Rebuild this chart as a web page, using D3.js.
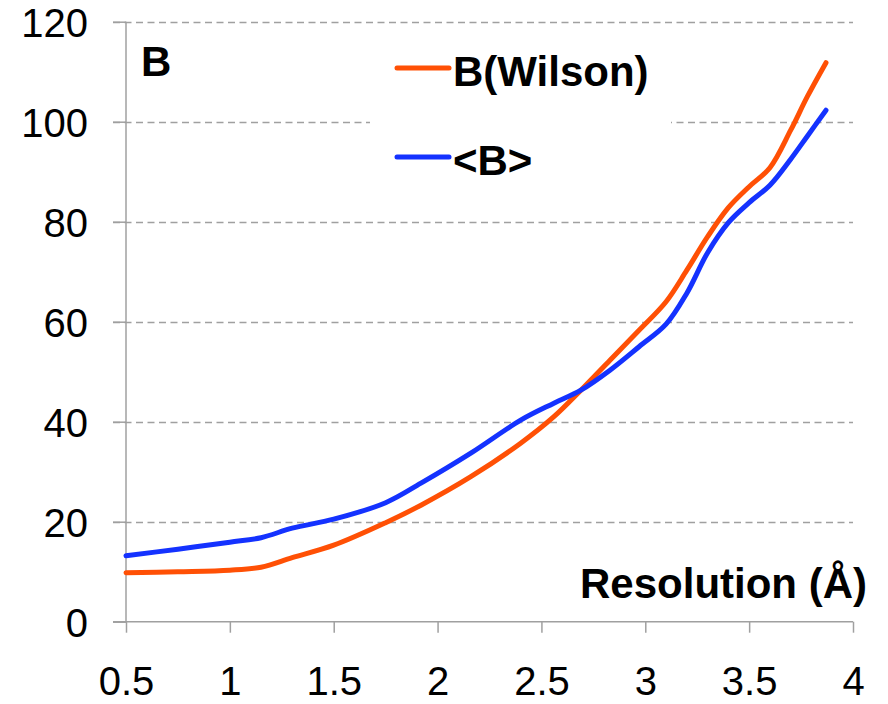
<!DOCTYPE html>
<html><head><meta charset="utf-8">
<script src="https://cdn.jsdelivr.net/npm/d3@7"></script>
<style>body{margin:0;background:#fff}svg{display:block;font-family:"Liberation Sans",Arial,sans-serif}</style>
</head><body>
<script>
const resolution = [0.5, 0.75, 1.0, 1.15, 1.3, 1.5, 1.75, 1.92, 2.16, 2.4, 2.56, 2.69, 2.83, 2.97, 3.1, 3.2, 3.3, 3.4, 3.5, 3.6, 3.7, 3.78, 3.87];
const bWilson   = [9.8, 10.0, 10.3, 10.9, 12.8, 15.3, 19.8, 23.3, 29.0, 35.7, 41.0, 46.3, 52.3, 58.3, 64.0, 70.3, 77.0, 82.8, 87.0, 90.8, 98.3, 105.0, 111.8];
const bMean     = [13.2, 14.5, 15.9, 16.8, 18.7, 20.5, 23.8, 27.7, 33.7, 40.3, 43.7, 46.3, 50.3, 55.0, 59.5, 65.7, 73.8, 79.8, 83.8, 87.3, 92.5, 97.1, 102.3];
const xTicks = [0.5, 1, 1.5, 2, 2.5, 3, 3.5, 4];
const yTicks = [0, 20, 40, 60, 80, 100, 120];
const seriesNames = ["B(Wilson)", "<B>"];
const seriesColors = ["#ff5005", "#1432ff"];

const W = 888, H = 704;
const svg = d3.select("body").append("svg").attr("width", W).attr("height", H);
const x = d3.scaleLinear().domain([0.5, 4]).range([126, 853]);
const y = d3.scaleLinear().domain([0, 120]).range([621.7, 21.7]);

// gridlines
const grid = svg.append("g");
yTicks.filter(d => d > 0).forEach(t => {
  grid.append("line").attr("x1", 113).attr("x2", 853)
    .attr("y1", Math.round(y(t)) + 0.5).attr("y2", Math.round(y(t)) + 0.5)
    .attr("stroke", "#a0a0a0").attr("stroke-width", 1.5).attr("stroke-dasharray", "7,4.5");
});

// legend background
svg.append("rect").attr("x", 370).attr("y", 40).attr("width", 301).attr("height", 160).attr("fill", "#fff");

// y axis
const yAxis = d3.axisLeft(y).tickValues(yTicks).tickSize(13).tickPadding(25).tickFormat(d3.format("d"));
const gy = svg.append("g").attr("transform", "translate(126,0)").call(yAxis);
gy.select(".domain").attr("stroke", "#a0a0a0").attr("stroke-width", 1.5).attr("d", `M0,${y(120)}V${y(0)}`);
gy.selectAll(".tick line").attr("stroke", "#a0a0a0").attr("stroke-width", 1.5);
gy.selectAll(".tick text").attr("font-size", 40).attr("fill", "#000").attr("font-family", "Liberation Sans, Arial, sans-serif").attr("dy", "0.36em");

// x axis
const xAxis = d3.axisBottom(x).tickValues(xTicks).tickSize(11).tickPadding(0).tickFormat(d => String(d));
const gx = svg.append("g").attr("transform", `translate(0,${y(0)})`).call(xAxis);
gx.select(".domain").attr("stroke", "#a0a0a0").attr("stroke-width", 1.5).attr("d", `M113,0H853`);
gx.selectAll(".tick line").attr("stroke", "#a0a0a0").attr("stroke-width", 1.5);
gx.selectAll(".tick text").attr("font-size", 40).attr("fill", "#000").attr("font-family", "Liberation Sans, Arial, sans-serif").attr("dy", null).attr("y", 73);

// lines
const line = d3.line().x(d => x(d[0])).y(d => y(d[1])).curve(d3.curveCatmullRom.alpha(0.5));
[bWilson, bMean].forEach((vals, i) => {
  svg.append("path").datum(resolution.map((r, j) => [r, vals[j]]))
    .attr("d", line).attr("fill", "none").attr("stroke", seriesColors[i])
    .attr("stroke-width", 5).attr("stroke-linecap", "round").attr("stroke-linejoin", "round");
});

// panel label
svg.append("text").attr("x", 141).attr("y", 76).attr("font-size", 42).attr("font-weight", "bold").text("B");

// legend
const legY = [68, 157];
seriesNames.forEach((n, i) => {
  svg.append("line").attr("x1", 397).attr("x2", 449).attr("y1", legY[i]).attr("y2", legY[i])
    .attr("stroke", seriesColors[i]).attr("stroke-width", 5).attr("stroke-linecap", "round");
  svg.append("text").attr("x", 453).attr("y", legY[i] + 18).attr("font-size", 42).attr("font-weight", "bold").text(n);
});

// axis title
svg.append("text").attr("x", 867).attr("y", 598).attr("text-anchor", "end").attr("font-size", 42).attr("font-weight", "bold").text("Resolution (Å)");
</script>
</body></html>
